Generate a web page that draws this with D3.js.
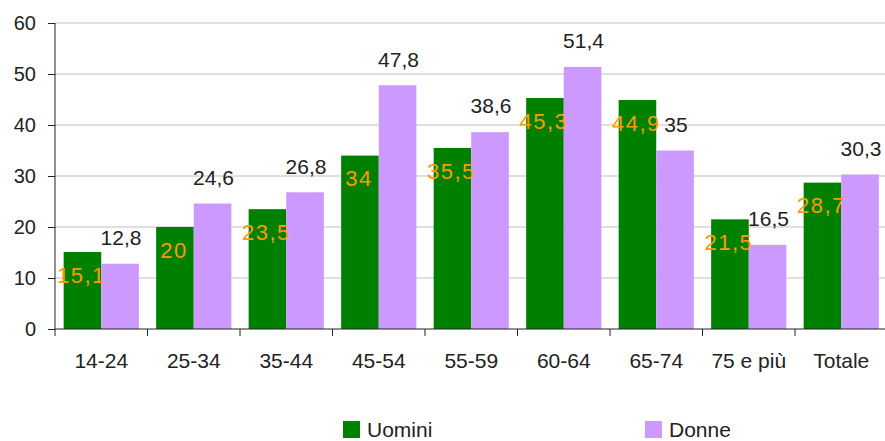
<!DOCTYPE html>
<html><head><meta charset="utf-8">
<script src="https://cdn.jsdelivr.net/npm/d3@7"></script>
<style>
html,body{margin:0;padding:0;background:#fff;}
svg{display:block;font-family:"Liberation Sans",Arial,Helvetica,sans-serif;}
</style></head>
<body>
<svg id="c" width="885" height="441"></svg>
<script>
const categories = ["14-24","25-34","35-44","45-54","55-59","60-64","65-74","75 e più","Totale"];
const uomini = [15.1,20,23.5,34,35.5,45.3,44.9,21.5,28.7];
const donne = [12.8,24.6,26.8,47.8,38.6,51.4,35,16.5,30.3];
const seriesNames = ["Uomini","Donne"];
const yTicks = [0,10,20,30,40,50,60];
const colors = ["#008000","#cc99ff"];

const fmt = v => String(v).replace(".", ",");
const svg = d3.select("#c");
const mLeft = 55, mRight = 887.5, mTop = 23, mBottom = 329;

const x = d3.scaleBand().domain(categories).range([mLeft, mRight]).paddingInner(0).paddingOuter(0);
const xInner = d3.scaleBand().domain(seriesNames).range([0, x.bandwidth()]).paddingOuter(0.23).paddingInner(0);
const y = d3.scaleLinear().domain([0,60]).range([mBottom, mTop]);

// gridlines
svg.append("g").selectAll("line").data(yTicks.filter(t=>t>0)).join("line")
  .attr("x1", mLeft).attr("x2", 885).attr("y1", d=>y(d)).attr("y2", d=>y(d))
  .attr("stroke", "#d4d4d4").attr("stroke-width", 1.3);

const data = categories.map((c,i)=>({c, vals:[{s:"Uomini",v:uomini[i]},{s:"Donne",v:donne[i]}]}));

const g = svg.append("g").selectAll("g").data(data).join("g")
  .attr("transform", d=>`translate(${x(d.c)},0)`);
g.selectAll("rect").data(d=>d.vals).join("rect")
  .attr("x", d=>xInner(d.s)).attr("width", xInner.bandwidth())
  .attr("y", d=>y(d.v)).attr("height", d=>y(0)-y(d.v))
  .attr("fill", (d,i)=>colors[i]);

// y axis
const yAxis = d3.axisLeft(y).tickValues(yTicks).tickSize(7).tickPadding(12).tickFormat(d=>d);
const ya = svg.append("g").attr("transform", `translate(${mLeft},0)`).call(yAxis);
ya.select(".domain").attr("stroke","#222").attr("d", `M0,${mTop}V${mBottom}`);
ya.selectAll(".tick line").attr("stroke","#222");
ya.selectAll(".tick text").attr("font-size", 20).attr("fill","#222").attr("font-family","Liberation Sans, Arial, sans-serif");

// x axis
const xAxis = d3.axisBottom(x).tickSize(0).tickPadding(24);
const xa = svg.append("g").attr("transform", `translate(0,${mBottom})`).call(xAxis);
xa.select(".domain").attr("stroke","#222").attr("d", `M${mLeft},0H885`);
xa.selectAll(".tick text").attr("font-size", 21).attr("fill","#222").attr("font-family","Liberation Sans, Arial, sans-serif");
svg.append("g").selectAll("line").data(categories.concat(["_end"])).join("line")
  .attr("x1", (d,i)=> mLeft + i*x.step()).attr("x2", (d,i)=> mLeft + i*x.step())
  .attr("y1", mBottom).attr("y2", mBottom+7).attr("stroke","#222");

// labels
g.each(function(d){
  const sel = d3.select(this);
  const u = d.vals[0], dn = d.vals[1];
  sel.append("text").attr("x", xInner("Uomini")+xInner.bandwidth()/2 - 1)
    .attr("y", y(u.v)+23).attr("dy","0.35em").attr("text-anchor","middle")
    .attr("font-size", 22).attr("letter-spacing", 1.5).attr("fill","#ff9900")
    .text(fmt(u.v));
  sel.append("text").attr("x", xInner("Donne")+xInner.bandwidth()/2 + 1)
    .attr("y", y(dn.v)-26).attr("dy","0.35em").attr("text-anchor","middle")
    .attr("font-size", 21).attr("fill","#222")
    .text(fmt(dn.v));
});

// legend
const legX = [343, 645];
const lg = svg.append("g").selectAll("g").data(seriesNames).join("g")
  .attr("transform", (d,i)=>`translate(${legX[i]},421)`);
lg.append("rect").attr("width",17).attr("height",17).attr("fill",(d,i)=>colors[i]);
lg.append("text").attr("x",24).attr("y",15.5).attr("font-size",21).attr("fill","#222").text(d=>d);
</script>
</body></html>
